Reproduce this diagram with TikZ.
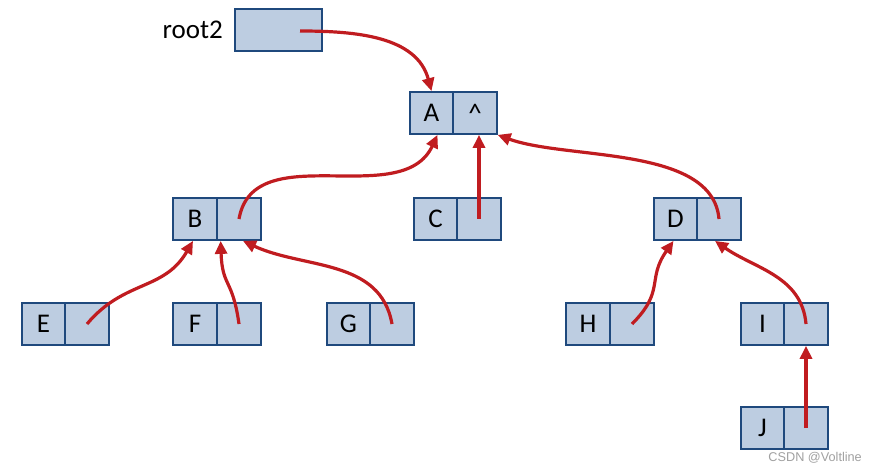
\documentclass[tikz,border=0pt]{standalone}
\usepackage{fontspec}
\setmainfont{Carlito}
\newfontfamily\wmfont{Liberation Sans}
\usetikzlibrary{arrows.meta}
\definecolor{cellc}{RGB}{189,205,225}
\definecolor{bordc}{RGB}{31,73,125}
\definecolor{redc}{RGB}{192,28,32}
\definecolor{wmc}{RGB}{160,160,160}
\tikzset{
  cell/.style={draw=bordc, fill=cellc, line width=1.8pt, minimum width=43.5pt, minimum height=42pt, inner sep=0pt, font=\fontsize{27}{27}\selectfont},
  wide/.style={cell, minimum width=87pt},
  ptr/.style={draw=redc, line width=3.2pt, -{Triangle[length=13pt,width=12pt]}},
  lbl/.style={inner sep=0pt, font=\fontsize{27}{27}\selectfont}
}
\begin{document}
\begin{tikzpicture}[x=1pt,y=1pt]
\useasboundingbox (0,0) rectangle (878,-473);
% root2
\node[lbl, anchor=east] (rl) at (223,-30) {root2};
\node[wide] (R) at (278.5,-30) {};
\coordinate (Rs) at (300,-31);
% cells
\node[cell] (Ad) at (431.5,-113) {A}; \node[cell] (Ap) at (475,-113) {\^{}};
\node[cell] (Bd) at (195,-219) {B};   \node[cell] (Bp) at (239,-219) {};
\node[cell] (Cd) at (435.5,-219) {C}; \node[cell] (Cp) at (479,-219) {};
\node[cell] (Dd) at (675.5,-219) {D}; \node[cell] (Dp) at (719,-219) {};
\node[cell] (Ed) at (43.5,-324) {E};  \node[cell] (Ep) at (87,-324) {};
\node[cell] (Fd) at (195,-324) {F};   \node[cell] (Fp) at (239,-324) {};
\node[cell] (Gd) at (348.5,-324) {G}; \node[cell] (Gp) at (392,-324) {};
\node[cell] (Hd) at (588,-324) {H};   \node[cell] (Hp) at (632,-324) {};
\node[cell] (Id) at (762.5,-324) {I}; \node[cell] (Ip) at (806,-324) {};
\node[cell] (Jd) at (762.5,-428) {J}; \node[cell] (Jp) at (806,-428) {};
% arrows
\draw[ptr] (Rs) to[out=0, in=105] (Ad.north);
\draw[ptr] (Bp.center) to[out=80, in=-115] ([xshift=6pt]Ad.south);
\draw[ptr] (Cp.center) -- (Cp.center |- Ap.south);
\draw[ptr] (Dp.center) to[out=95, in=-20, looseness=0.8] (Ap.south east);
\draw[ptr] (Ep.center) to[out=50, in=-120, looseness=1.1] ([xshift=-2pt]Bd.south);
\draw[ptr] (Fp.center) to[out=98, in=-88, looseness=1.4] ([xshift=3pt]Bd.south east);
\draw[ptr] (Gp.center) to[out=100, in=-25] ([xshift=4pt]Bp.south);
\draw[ptr] (Hp.center) to[out=45, in=-125, looseness=1.3] ([xshift=-2pt]Dd.south);
\draw[ptr] (Ip.center) to[out=95, in=-35] ([xshift=-4pt]Dp.south);
\draw[ptr] (Jp.center) -- (Ip.south);
% watermark
\node[inner sep=0pt, anchor=east, text=wmc, font=\wmfont\fontsize{12.7}{13}\selectfont] (wm) at (862,-458) {CSDN @Voltline};
\end{tikzpicture}
\end{document}
